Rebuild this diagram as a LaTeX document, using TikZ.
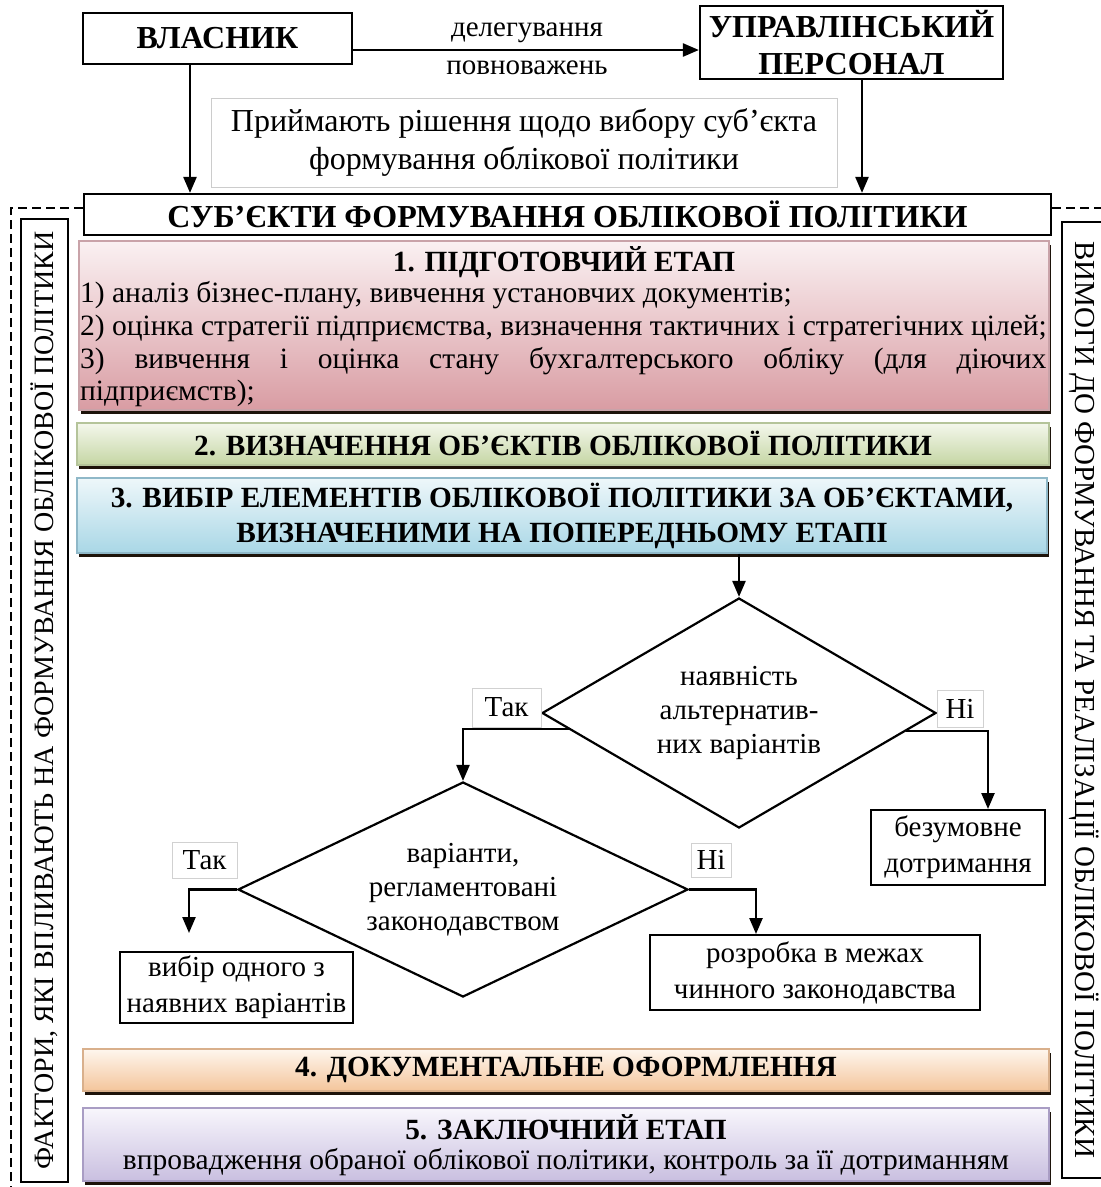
\documentclass[tikz,border=0pt]{standalone}
\usepackage{fontspec}
\setmainfont{Liberation Serif}[BoldFont={Liberation Serif Bold}]
\usetikzlibrary{arrows.meta,shapes.geometric,calc,shadows}
\definecolor{pAt}{HTML}{FAF1F2}\definecolor{pAb}{HTML}{D99CA3}\definecolor{pAd}{HTML}{C9A3A9}
\definecolor{gBt}{HTML}{F4F7EC}\definecolor{gBb}{HTML}{C5D6A4}\definecolor{gBd}{HTML}{B5C49A}
\definecolor{bCt}{HTML}{EEF7FA}\definecolor{bCb}{HTML}{A9D7E6}\definecolor{bCd}{HTML}{8FB8C8}
\definecolor{oDt}{HTML}{FEF6EE}\definecolor{oDb}{HTML}{F4C59B}\definecolor{oDd}{HTML}{D9B08C}
\definecolor{vEt}{HTML}{F8F6FC}\definecolor{vEb}{HTML}{C9BFE0}\definecolor{vEd}{HTML}{A99DC4}
\newcommand\FsHead{\fontsize{32}{37}\selectfont\bfseries}
\newcommand\FsSubj{\fontsize{32}{36}\selectfont\bfseries}
\newcommand\FsTitle{\fontsize{29.3}{35}\selectfont\bfseries}
\newcommand\FsBody{\fontsize{29.5}{33}\selectfont}
\newcommand\FsNote{\fontsize{32}{38}\selectfont}
\newcommand\FsSmall{\fontsize{29}{34}\selectfont}
\newcommand\FsBoxText{\fontsize{29}{36}\selectfont}
\newcommand\FsSideL{\fontsize{28}{30}\selectfont}
\newcommand\FsSideR{\fontsize{29}{30}\selectfont}
\begin{document}
\begin{tikzpicture}[x=1pt,y=-1pt,
  box/.style={draw, line width=2.2pt, fill=white, inner sep=0pt, align=center},
  fbox/.style={draw, line width=2pt, fill=white, inner sep=0pt, align=center, font=\FsBoxText},
  arr/.style={line width=2.4pt, -{Triangle[length=16pt,width=13pt]}},
  lbl/.style={draw=black!18, line width=0.7pt, inner sep=0pt, fill=white, font=\FsSmall},
  stagebox/.style={draw=#1, line width=1.2pt, inner sep=0pt,
     drop shadow={shadow xshift=2pt, shadow yshift=-4pt, fill=black!85!brown, opacity=1}},
  dsh/.style={dash pattern=on 9pt off 5pt, line width=1.6pt},
  side/.style={draw, line width=1.8pt, inner sep=0pt},
  plain/.style={inner sep=0pt}
]
\useasboundingbox (0,0) rectangle (1101,1187);
\fill[white] (0,0) rectangle (1101,1187);

% side boxes and dashed frame
\node[side, rotate=90, minimum width=963pt, minimum height=47pt, font=\FsSideL] (left) at (44.5,700.5)
  {ФАКТОРИ, ЯКІ ВПЛИВАЮТЬ НА ФОРМУВАННЯ ОБЛІКОВОЇ ПОЛІТИКИ};
\node[side, rotate=-90, minimum width=956pt, minimum height=44pt, font=\FsSideR] (right) at (1084,700)
  {ВИМОГИ ДО ФОРМУВАННЯ ТА РЕАЛІЗАЦІЇ ОБЛІКОВОЇ ПОЛІТИКИ};

% top part
\node[box, minimum width=269pt, minimum height=51pt, font=\FsHead] (vl) at (217.5,38.5) {ВЛАСНИК};
\node[box, minimum width=303pt, minimum height=73pt, font=\FsHead] (upr) at (851.5,42.5)
  {УПРАВЛІНСЬКИЙ\\ПЕРСОНАЛ};
\node[plain, font=\FsSmall] (dl1) at (527,33) {делегування};
\node[plain, font=\FsSmall] (dl2) at (527,68) {повноважень};
\node[draw=black!20, line width=0.8pt, minimum width=626pt, minimum height=89pt, inner sep=0pt,
  align=center, font=\FsNote] (prym) at (524,142.5)
  {Приймають рішення щодо вибору суб’єкта\\формування облікової політики};
\node[box, minimum width=967pt, minimum height=41pt, font=\FsSubj] (subj) at (567.5,214.5)
  {СУБ’ЄКТИ ФОРМУВАННЯ ОБЛІКОВОЇ ПОЛІТИКИ};

\coordinate (ya) at (0,50);
\coordinate (xa) at (190,0);
\coordinate (xb) at (862,0);
\draw[arr] (vl.east |- ya) -- (upr.west |- ya);
\draw[arr] (vl.south -| xa) -- (subj.north -| xa);
\draw[arr] (upr.south -| xb) -- (subj.north -| xb);

\draw[dsh] (subj.west |- 0,208) -- (11,208) -- (11,1190);
\draw[dsh] (subj.east |- 0,208) -- (1105,208);

% stages
\node[stagebox=pAd, top color=pAt, bottom color=pAb, minimum width=970pt, minimum height=169pt] (st1) at (564,325.5) {};
\node[plain, font=\FsTitle] (t1) at (564,262) {1. ПІДГОТОВЧИЙ ЕТАП};
\node[plain, anchor=west, font=\FsBody] (l1) at (80,295) {1) аналіз бізнес-плану, вивчення установчих документів;};
\node[plain, anchor=west, font=\FsBody] (l2) at (80,328) {2) оцінка стратегії підприємства, визначення тактичних і стратегічних цілей;};
\node[plain, anchor=west, font=\FsBody] (l3) at (80,361) {\makebox[966pt][s]{3) вивчення і оцінка стану бухгалтерського обліку (для діючих}};
\node[plain, anchor=west, font=\FsBody] (l4) at (80,393) {підприємств);};

\node[stagebox=gBd, top color=gBt, bottom color=gBb, minimum width=972pt, minimum height=42pt, font=\FsTitle] (st2) at (563,444)
  {2. ВИЗНАЧЕННЯ ОБ’ЄКТІВ ОБЛІКОВОЇ ПОЛІТИКИ};
\node[stagebox=bCd, top color=bCt, bottom color=bCb, minimum width=970pt, minimum height=75pt, font=\FsTitle, align=center] (st3) at (562,515.5)
  {3. ВИБІР ЕЛЕМЕНТІВ ОБЛІКОВОЇ ПОЛІТИКИ ЗА ОБ’ЄКТАМИ,\\ВИЗНАЧЕНИМИ НА ПОПЕРЕДНЬОМУ ЕТАПІ};
\node[stagebox=oDd, top color=oDt, bottom color=oDb, minimum width=966pt, minimum height=42pt, font=\FsTitle] (st4) at (566,1070)
  {4. ДОКУМЕНТАЛЬНЕ ОФОРМЛЕННЯ};
\node[stagebox=vEd, top color=vEt, bottom color=vEb, minimum width=966pt, minimum height=73pt] (st5) at (566,1144.5) {};
\node[plain, font=\FsTitle] (t5) at (566,1127) {5. ЗАКЛЮЧНИЙ ЕТАП};
\node[plain, font=\FsBody] (s5) at (566,1162) {впровадження обраної облікової політики, контроль за її дотриманням};

% decision part
\node[diamond, draw, line width=2.2pt, minimum width=394pt, minimum height=230pt, inner sep=0pt,
  aspect=1.7, align=center, font=\FsSmall] (d1) at (739,713)
  {наявність\\альтернатив-\\них варіантів};
\node[diamond, draw, line width=2.2pt, minimum width=450pt, minimum height=215pt, inner sep=0pt,
  aspect=2, align=center, font=\FsSmall] (d2) at (463,889.5)
  {варіанти,\\регламентовані\\законодавством};
\node[fbox, minimum width=174pt, minimum height=75pt] (bez) at (958,847.5) {безумовне\\дотримання};
\node[fbox, minimum width=233pt, minimum height=71pt] (vib) at (236.5,987.5) {вибір одного з\\наявних варіантів};
\node[fbox, minimum width=330pt, minimum height=75pt] (roz) at (815,972.5) {розробка в межах\\чинного законодавства};

\node[lbl, minimum width=69pt, minimum height=39pt] (tak1) at (506.5,707.5) {Так};
\node[lbl, minimum width=46pt, minimum height=37pt] (ni1) at (960,708.5) {Ні};
\node[lbl, minimum width=65pt, minimum height=36pt] (tak2) at (204.5,860) {Так};
\node[lbl, minimum width=40pt, minimum height=34pt] (ni2) at (711,860) {Ні};

\draw[arr] (st3.south -| d1.north) -- (d1.north);
\draw[arr] ($(d1.west)!0.14!(d1.south)$) -| (d2.north);
\coordinate (nx1) at (988,0);
\draw[arr] ($(d1.east)!0.155!(d1.south)$) -| (bez.north -| nx1);
\coordinate (t2) at (189,933);
\draw[arr] (d2.west) -| (t2);
\coordinate (nx2) at (756,0);
\draw[arr] (d2.east) -| (roz.north -| nx2);
\end{tikzpicture}
\end{document}
